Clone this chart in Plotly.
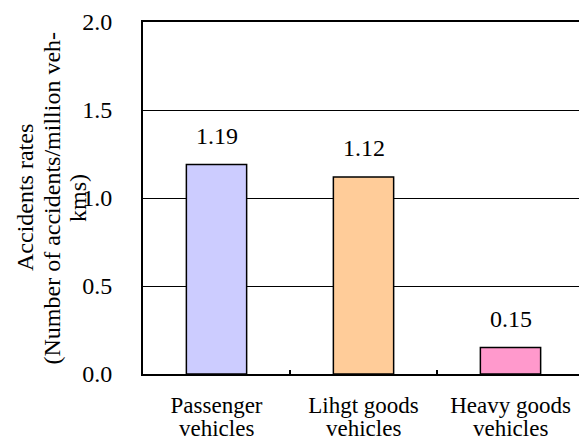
import plotly.graph_objects as go

categories = ["Passenger vehicles", "Lihgt goods vehicles", "Heavy goods vehicles"]
label_line1 = ["Passenger", "Lihgt goods", "Heavy goods"]
label_line2 = ["vehicles", "vehicles", "vehicles"]
rates = [1.19, 1.12, 0.15]
bar_colors = ["#CCCCFF", "#FFCC99", "#FF99CC"]
y_ticks = [0.0, 0.5, 1.0, 1.5, 2.0]

FONT = "Times New Roman, Liberation Serif, serif"
CAT_SIZE = 23

fig = go.Figure()
fig.add_trace(go.Bar(
    x=categories, y=rates,
    marker=dict(color=bar_colors, line=dict(color="black", width=1.5)),
    width=0.41, hoverinfo="skip",
))

annotations = []
for c, v in zip(categories, rates):
    annotations.append(dict(x=c, y=v, xref="x", yref="y", text=f"{v:.2f}",
                            showarrow=False, yanchor="middle", yshift=29,
                            font=dict(family=FONT, size=24, color="black")))
for c, t in zip(categories, label_line2):
    annotations.append(dict(x=c, y=0, xref="x", yref="paper", text=t,
                            showarrow=False, yanchor="top", yshift=-40,
                            font=dict(family=FONT, size=CAT_SIZE, color="black")))
title_lines = ["Accidents rates", "(Number of accidents/million veh-", "kms)"]
for i, t in enumerate(title_lines):
    annotations.append(dict(x=0, y=0.5, xref="paper", yref="paper", text=t,
                            showarrow=False, textangle=-90, xanchor="center",
                            yanchor="middle", xshift=-118 + 26.5 * i,
                            font=dict(family=FONT, size=24, color="black")))

# page body has an 8px default margin; size the figure so the plot area lands
# where the reference has it
fig.update_layout(
    width=579, height=436,
    margin=dict(l=135, r=3, t=14, b=70, autoexpand=False),
    paper_bgcolor="white", plot_bgcolor="white",
    showlegend=False,
    annotations=annotations,
    font=dict(family=FONT, size=24, color="black"),
    xaxis=dict(
        tickmode="array", tickvals=categories, ticktext=label_line1,
        tickson="boundaries", ticks="inside", ticklen=4, tickwidth=1.5,
        tickcolor="black", showline=True, linecolor="black", linewidth=2,
        mirror=True, showgrid=False, ticklabelstandoff=9, automargin=False,
        tickfont=dict(family=FONT, size=CAT_SIZE, color="black"),
    ),
    yaxis=dict(
        range=[0, 2.0], tickmode="array", tickvals=y_ticks,
        ticktext=[f"{t:.1f}" for t in y_ticks], ticks="",
        showline=True, linecolor="black", linewidth=2, mirror=True,
        showgrid=True, gridcolor="black", gridwidth=1.3, automargin=False,
        zeroline=False, ticklabelstandoff=24,
        tickfont=dict(family=FONT, size=24, color="black"),
    ),
)

fig.write_html("out.html")
